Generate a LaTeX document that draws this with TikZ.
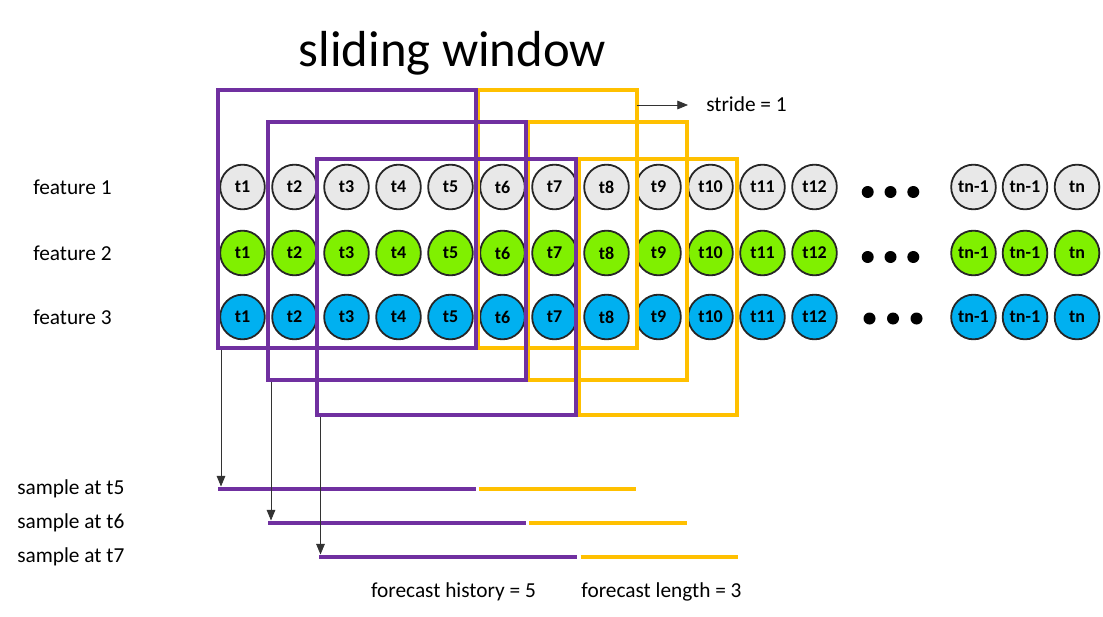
\documentclass[tikz,border=0pt]{standalone}
\usepackage{fontspec}
\setmainfont{Carlito}
\usetikzlibrary{arrows.meta}
\definecolor{cgray}{RGB}{232,232,232}
\definecolor{cgreen}{RGB}{128,240,0}
\definecolor{cblue}{RGB}{0,176,240}
\definecolor{cpurple}{RGB}{112,48,160}
\definecolor{cyellow}{RGB}{255,192,0}
\tikzset{
  ts/.style={circle,draw=black!85,line width=1.35pt,minimum size=33.5pt,inner sep=0pt,font=\fontsize{13.5}{15}\selectfont\bfseries},
  gts/.style={ts,fill=cgray},
  grts/.style={ts,fill=cgreen},
  bts/.style={ts,fill=cblue},
  dotc/.style={circle,fill=black,inner sep=0pt,minimum size=9pt},
  lbl/.style={font=\fontsize{16}{19}\selectfont,inner sep=0pt},
  pwin/.style={draw=cpurple,line width=3pt},
  ywin/.style={draw=cyellow,line width=3pt},
  arr/.style={draw=black!80,line width=0.6pt,-{Triangle[length=8pt,width=6.5pt]}}
}
\begin{document}
\begin{tikzpicture}[x=0.75pt,y=-0.75pt]
\useasboundingbox (0,0) rectangle (1103,617);
% title
\node[font=\fontsize{38}{44}\selectfont,inner sep=0pt,anchor=base] (title) at (452.5,66.5) {sliding window};
% feature labels
\node[lbl,anchor=west] (f1) at (33,187) {feature 1};
\node[lbl,anchor=west] (f2) at (33,253) {feature 2};
\node[lbl,anchor=west] (f3) at (33,317) {feature 3};
% circles
\foreach \k in {1,...,12}{
  \pgfmathsetmacro{\xx}{242.5+52*(\k-1)}
  \node[gts] (a\k) at (\xx,187) {t\k};
  \node[grts] (b\k) at (\xx,253) {t\k};
  \node[bts] (c\k) at (\xx,317) {t\k};
}
\foreach \xx/\nm/\tx in {973.5/m1/tn-1,1025/m2/tn-1,1077/m3/tn}{
  \node[gts] (a\nm) at (\xx,187) {\tx};
  \node[grts] (b\nm) at (\xx,253) {\tx};
  \node[bts] (c\nm) at (\xx,317) {\tx};
}
% dots
\foreach \xx/\i in {867.7/1,890.5/2,913.3/3}{
  \node[dotc] (da\i) at (\xx,192) {};
  \node[dotc] (db\i) at (\xx,257) {};
}
\foreach \xx/\i in {869.5/1,893/2,916.5/3}{
  \node[dotc] (dc\i) at (\xx,318.5) {};
}
% yellow windows
\draw[ywin] (477.5,90) rectangle (636.5,347.5);
\draw[ywin] (528,122) rectangle (686.5,380);
\draw[ywin] (578.5,158.5) rectangle (736.5,415);
% purple windows
\draw[pwin] (218,90) rectangle (475.5,347.5);
\draw[pwin] (268,122) rectangle (525.5,380);
\draw[pwin] (317,158.5) rectangle (576,415);
% stride
\coordinate (s0) at (636.5,105);
\coordinate (s1) at (688,105);
\draw[arr] (s0) -- (s1);
\node[lbl,anchor=west] (stride) at (706,104) {stride = 1};
% sample lines
\coordinate (p1a) at (218,488.5); \coordinate (p1b) at (475.5,488.5);
\coordinate (y1a) at (478.5,488.5); \coordinate (y1b) at (636,488.5);
\coordinate (p2a) at (268,522.5); \coordinate (p2b) at (525.5,522.5);
\coordinate (y2a) at (529,522.5); \coordinate (y2b) at (687,522.5);
\coordinate (p3a) at (319,556.5); \coordinate (p3b) at (576.5,556.5);
\coordinate (y3a) at (580.5,556.5); \coordinate (y3b) at (738,556.5);
\draw[pwin] (p1a) -- (p1b); \draw[ywin] (y1a) -- (y1b);
\draw[pwin] (p2a) -- (p2b); \draw[ywin] (y2a) -- (y2b);
\draw[pwin] (p3a) -- (p3b); \draw[ywin] (y3a) -- (y3b);
% arrows from windows
\coordinate (w1) at (221,349.5); \coordinate (e1) at (221,486.5);
\coordinate (w2) at (271,382); \coordinate (e2) at (271,520.5);
\coordinate (w3) at (320.5,417); \coordinate (e3) at (320.5,554.5);
\draw[arr] (w1) -- (e1);
\draw[arr] (w2) -- (e2);
\draw[arr] (w3) -- (e3);
% sample labels
\node[lbl,anchor=west] (s5) at (17,489) {sample at t5};
\node[lbl,anchor=west] (s6) at (17,522.5) {sample at t6};
\node[lbl,anchor=west] (s7) at (17,557) {sample at t7};
\node[lbl] (fh) at (453.5,591.5) {forecast history = 5};
\node[lbl] (fl) at (661.5,591.5) {forecast length = 3};
\end{tikzpicture}
\end{document}
